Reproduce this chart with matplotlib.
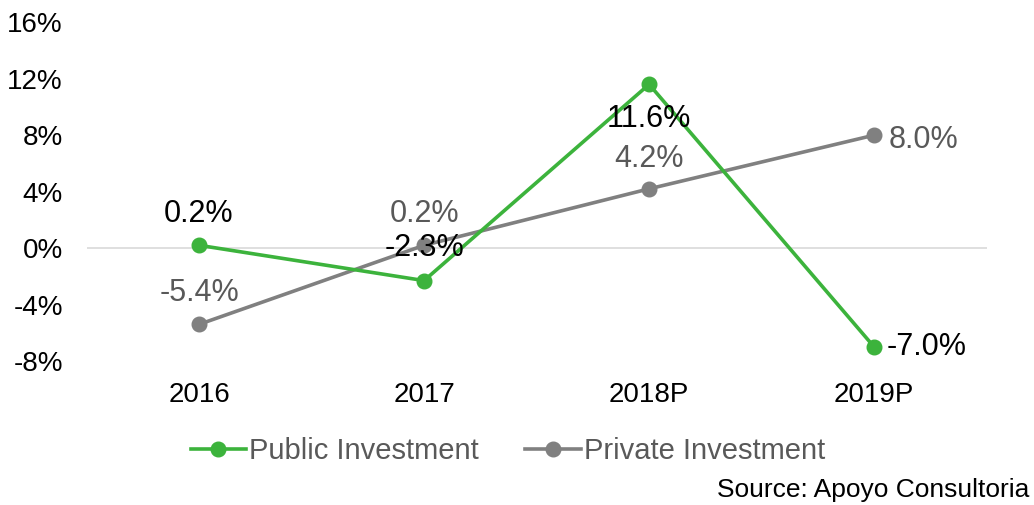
import matplotlib as mpl
mpl.use('Agg')
import matplotlib.pyplot as plt

plt.rcParams['font.family'] = ['Liberation Sans', 'DejaVu Sans']

years = ['2016', '2017', '2018P', '2019P']
public = [0.2, -2.3, 11.6, -7.0]
private = [-5.4, 0.2, 4.2, 8.0]
yticks = [-8, -4, 0, 4, 8, 12, 16]

green = '#3CB33C'
grey = '#808080'

fig = plt.figure(figsize=(10.34, 5.05), dpi=100)
ax = fig.add_axes([0.0837, 0.285, 0.8705, 0.671])

x = range(len(years))
ax.axhline(0, color='#D9D9D9', lw=1.2, zorder=1)
ax.plot(x, public, '-o', color=green, lw=2.6, ms=10.5, label='Public Investment', zorder=3)
ax.plot(x, private, '-o', color=grey, lw=2.6, ms=10.5, label='Private Investment', zorder=2)

# label offsets in pixels
pub_off = [(0, 31, 'center'), (0, 33, 'center'), (0, -35, 'center'), (12, 0, 'left')]
priv_off = [(0, 31, 'center'), (0, 31, 'center'), (0, 30, 'center'), (14, -5, 'left')]
for i, v in enumerate(public):
    dx, dy, ha = pub_off[i]
    ax.annotate(f'{v:.1f}%', (i, v), xytext=(dx, dy), textcoords='offset pixels',
                ha=ha, va='center', fontsize=22, color='black', zorder=5)
for i, v in enumerate(private):
    dx, dy, ha = priv_off[i]
    ax.annotate(f'{v:.1f}%', (i, v), xytext=(dx, dy), textcoords='offset pixels',
                ha=ha, va='center', fontsize=22, color='#595959', zorder=5)

ax.set_xlim(-0.5, 3.5)
ax.set_ylim(-8, 16)
ax.set_xticks(list(x))
ax.set_xticklabels(years)
ax.set_yticks(yticks)
ax.set_yticklabels([f'{t}%' for t in yticks])
ax.tick_params(length=0, labelsize=20, colors='black')
ax.tick_params(axis='y', pad=17)
ax.tick_params(axis='x', pad=15)
for s in ax.spines.values():
    s.set_visible(False)

leg = fig.legend(loc='center', bbox_to_anchor=(0.491, 0.107), ncol=2, frameon=False,
                 fontsize=21, handlelength=1.9, handletextpad=0.1, columnspacing=1.6)
for t in leg.get_texts():
    t.set_color('#595959')

fig.text(0.996, 1 - 490 / 505, 'Source: Apoyo Consultoria', ha='right', va='center',
         fontsize=19, color='black')

fig.savefig('out.png', dpi=100)
